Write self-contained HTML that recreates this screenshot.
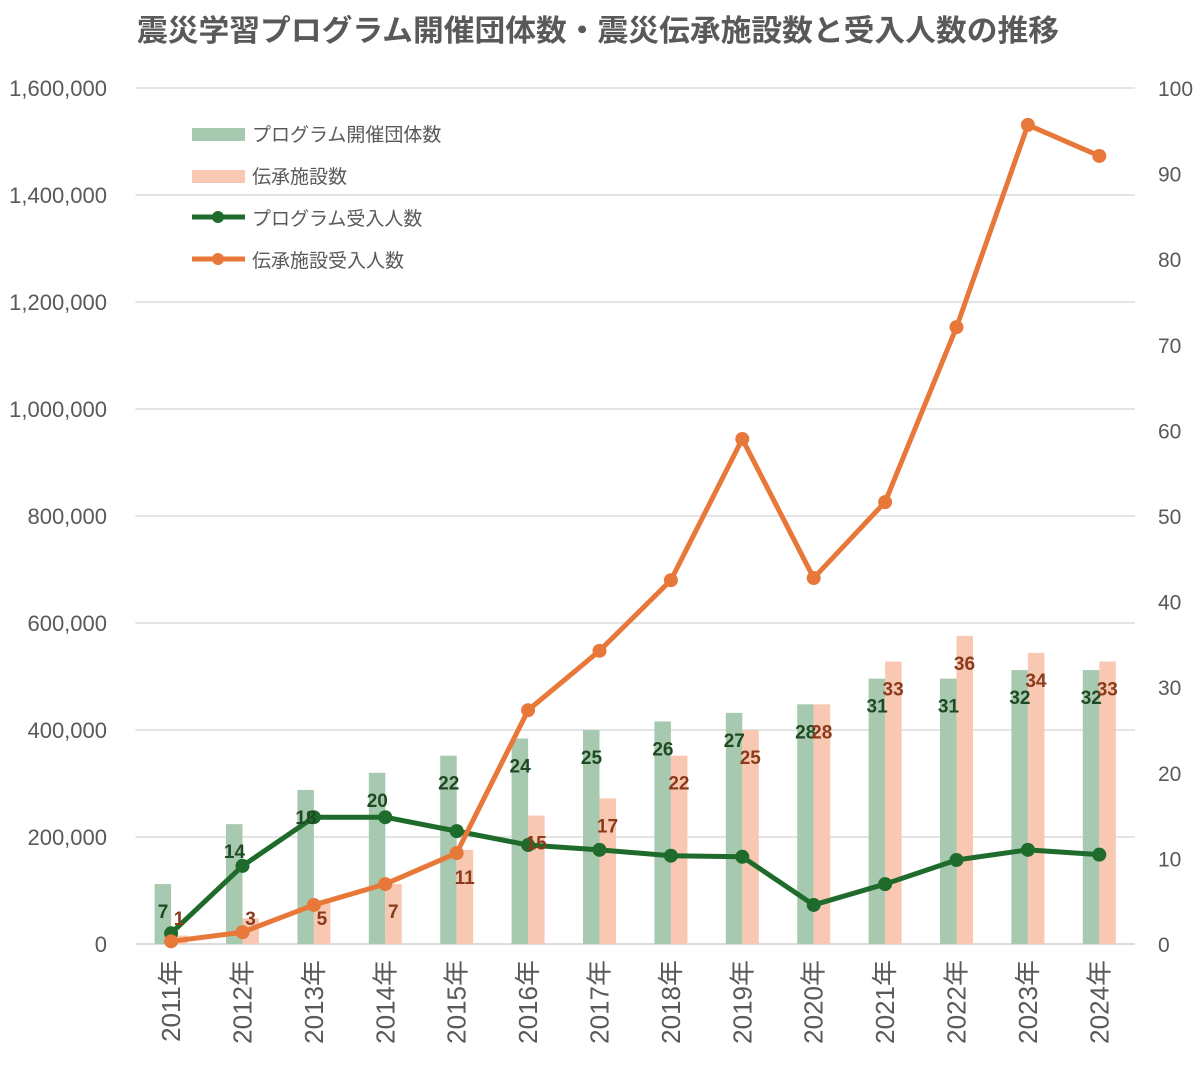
<!DOCTYPE html>
<html><head><meta charset="utf-8"><style>
body{margin:0;background:#fff;}
svg text{font-family:"Liberation Sans","Noto Sans CJK JP",sans-serif;}
</style></head><body>
<svg id="chart" width="1200" height="1068" viewBox="0 0 1200 1068" xmlns="http://www.w3.org/2000/svg">
<text x="598" y="41" text-anchor="middle" font-size="30" font-weight="bold" fill="#595959" textLength="922" lengthAdjust="spacingAndGlyphs">震災学習プログラム開催団体数・震災伝承施設数と受入人数の推移</text>
<g id="grid"></g><g id="bars"></g><g id="lines"></g><g id="labels"></g><g id="axes"></g>
<g>
<rect x="192" y="128" width="53" height="13" fill="#a7c9af"/>
<text x="252" y="141" font-size="19" fill="#595959">プログラム開催団体数</text>
<rect x="192" y="170" width="53" height="13" fill="#f9c8b2"/>
<text x="252" y="183" font-size="19" fill="#595959">伝承施設数</text>
<line x1="192" y1="217" x2="245" y2="217" stroke="#1f6b2b" stroke-width="5"/>
<circle cx="218" cy="217" r="6" fill="#1f6b2b"/>
<text x="252" y="225" font-size="19" fill="#595959">プログラム受入人数</text>
<line x1="192" y1="259" x2="245" y2="259" stroke="#e8783a" stroke-width="5"/>
<circle cx="218" cy="259" r="6" fill="#e8783a"/>
<text x="252" y="267" font-size="19" fill="#595959">伝承施設受入人数</text>
</g>
</svg>
<script>
const years=["2011年","2012年","2013年","2014年","2015年","2016年","2017年","2018年","2019年","2020年","2021年","2022年","2023年","2024年"];
const programCount=[7,14,18,20,22,24,25,26,27,28,31,31,32,32];
const facilityCount=[1,3,5,7,11,15,17,22,25,28,33,36,34,33];
const programVisitors=[20000,146000,237000,237000,211000,185000,176000,165000,163000,73000,112000,157000,176000,167000];
const facilityVisitors=[5000,22000,73000,112000,170000,437000,548000,680000,944000,684000,826000,1153000,1531000,1473000];
const leftTicks=[0,200000,400000,600000,800000,1000000,1200000,1400000,1600000];
const rightTicks=[0,10,20,30,40,50,60,70,80,90,100];
const NS="http://www.w3.org/2000/svg";
const L=135.4,R=1135,T=88,B=944,step=(R-L)/years.length;
const xc=i=>L+step*(i+0.5);
const yL=v=>B-(v/1600000)*(B-T);
const yR=v=>B-(v/100)*(B-T);
function mk(tag,attrs,parent,text){const e=document.createElementNS(NS,tag);for(const k in attrs)e.setAttribute(k,attrs[k]);if(text!==undefined)e.textContent=text;document.getElementById(parent).appendChild(e);return e;}
leftTicks.forEach(v=>{
 const g=mk('line',{x1:L,x2:R,y1:yL(v),y2:yL(v),stroke:v===0?'#d0d0d0':'#dcdcdc','stroke-width':1.5},'grid');
 
 
 const t=mk('text',{x:107,y:yL(v)+8,'text-anchor':'end','font-size':22,fill:'#595959'},'axes',v.toLocaleString('en-US'));
 
 
});
rightTicks.forEach(v=>{
 const t=mk('text',{x:1158,y:yR(v)+8,'font-size':21,fill:'#595959'},'axes',String(v));
 
 
});
years.forEach((y,i)=>{
 const x=xc(i);
 const t=mk('text',{x:0,y:0,'text-anchor':'end','font-size':26,fill:'#595959',transform:`translate(${x+9},960) rotate(-90)`},'axes',y);
 
 
 const gb=mk('rect',{x:x-16.5,y:yR(programCount[i]),width:16.5,height:B-yR(programCount[i]),fill:'#a7c9af'},'bars');
 
 
 const ob=mk('rect',{x:x,y:yR(facilityCount[i]),width:16.5,height:B-yR(facilityCount[i]),fill:'#f9c8b2'},'bars');
 
 
 const gl=mk('text',{x:x-8,y:Math.min(yR(programCount[i])+27,918)+7,'text-anchor':'middle','font-size':19,'font-weight':'bold',fill:'#1d4a22'},'labels',String(programCount[i]));
 
 
 const ol=mk('text',{x:x+8,y:Math.min(yR(facilityCount[i])+27,918)+7,'text-anchor':'middle','font-size':19,'font-weight':'bold',fill:'#8a3b1c'},'labels',String(facilityCount[i]));
 
 
});
function series(vals,color,name){
 const p=mk('polyline',{points:vals.map((v,i)=>xc(i)+','+yL(v)).join(' '),fill:'none',stroke:color,'stroke-width':5,'stroke-linejoin':'round'},'lines');
 
 
 vals.forEach((v,i)=>{
  const c=mk('circle',{cx:xc(i),cy:yL(v),r:7,fill:color},'lines');
  
  
 });
}
series(programVisitors,'#1f6b2b','program-visitors');
series(facilityVisitors,'#e8783a','facility-visitors');
</script>
</body></html>
